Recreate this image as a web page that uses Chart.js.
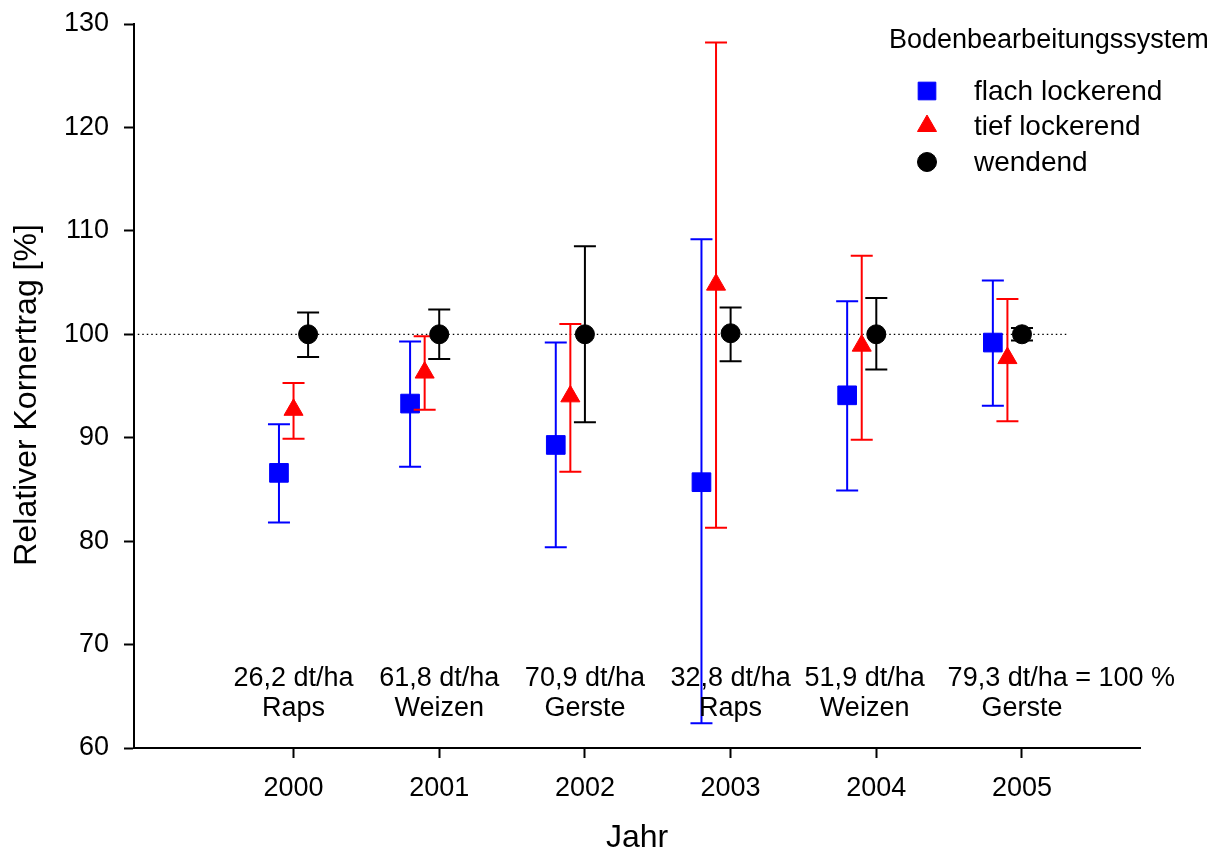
<!DOCTYPE html>
<html>
<head>
<meta charset="utf-8">
<script src="https://cdn.jsdelivr.net/npm/chart.js@4.4.1/dist/chart.umd.min.js"></script>
<style>
  html, body { margin: 0; padding: 0; background: #ffffff; }
  #wrap { width: 1219px; height: 857px; }
</style>
</head>
<body>
<div id="wrap"><canvas id="c" width="1219" height="857"></canvas></div>
<script>
// ---------- data ----------
const years = [2000, 2001, 2002, 2003, 2004, 2005];
const yearTickLabels = ['2000', '2001', '2002', '2003', '2004', '2005'];
const seriesNames = ['flach lockerend', 'tief lockerend', 'wendend'];
const legendTitle = 'Bodenbearbeitungssystem';

const flachX    = [1999.9, 2000.8, 2001.8, 2002.8, 2003.8, 2004.8];
const flachMean = [86.6, 93.3, 89.3, 85.7, 94.1, 99.2];
const flachLow  = [81.8, 87.2, 79.4, 62.4, 84.9, 93.1];
const flachHigh = [91.3, 99.3, 99.2, 109.2, 103.2, 105.2];

const tiefX    = [2000.0, 2000.9, 2001.9, 2002.9, 2003.9, 2004.9];
const tiefMean = [92.7, 96.3, 94.0, 104.8, 98.9, 97.7];
const tiefLow  = [89.9, 92.7, 86.7, 81.3, 89.8, 91.6];
const tiefHigh = [95.3, 99.8, 101.0, 128.2, 107.6, 103.4];

const wendX    = [2000.1, 2001, 2002, 2003, 2004, 2005];
const wendMean = [100, 100, 100, 100.1, 100, 100];
const wendLow  = [97.8, 97.6, 91.5, 97.4, 96.6, 99.4];
const wendHigh = [102.1, 102.4, 108.5, 102.6, 103.5, 100.6];

const yieldLabels = ['26,2 dt/ha', '61,8 dt/ha', '70,9 dt/ha', '32,8 dt/ha', '51,9 dt/ha', '79,3 dt/ha = 100 %'];
const cropLabels  = ['Raps', 'Weizen', 'Gerste', 'Raps', 'Weizen', 'Gerste'];
const yieldLabelX = [2000, 2001, 2002, 2003, 2003.92, 2005.27];
const cropLabelX  = [2000, 2001, 2002, 2003, 2003.92, 2005];
const annotationRowValues = [66.7, 63.8];

const referenceValue = 100;
const referenceSpan = [1998.9, 2005.32];

const xMin = 1998.905, xMax = 2005.81;
const yMin = 60, yMax = 130, yStep = 10;

// ---------- helpers ----------
const FONT = "'Liberation Sans', Arial, Helvetica, sans-serif";
function pts(xs, ys) { return xs.map((x, i) => ({ x: x, y: ys[i] })); }

function drawMarker(ctx, style, x, y, r, color) {
  if (Chart.helpers && Chart.helpers.drawPoint) {
    ctx.save();
    ctx.fillStyle = color; ctx.strokeStyle = color; ctx.lineWidth = 1;
    Chart.helpers.drawPoint(ctx, { pointStyle: style, radius: r, rotation: 0, borderWidth: 1 }, x, y);
    ctx.restore();
    return;
  }
  ctx.save();
  ctx.fillStyle = color;
  ctx.beginPath();
  if (style === 'circle') ctx.arc(x, y, r, 0, Math.PI * 2);
  else if (style === 'triangle') {
    ctx.moveTo(x, y - r);
    ctx.lineTo(x + r * Math.sqrt(3) / 2, y + r / 2);
    ctx.lineTo(x - r * Math.sqrt(3) / 2, y + r / 2);
    ctx.closePath();
  } else {
    const s = r * Math.SQRT1_2;
    ctx.rect(x - s, y - s, 2 * s, 2 * s);
  }
  ctx.fill();
  ctx.restore();
}

// error bars drawn just before each dataset's markers
const errorBarPlugin = {
  id: 'errorBars',
  beforeDatasetDraw(chart, args) {
    const ds = chart.data.datasets[args.index];
    if (!ds.errLow) return;
    const xs = chart.scales.x, ys = chart.scales.y;
    const ctx = chart.ctx;
    ctx.save();
    ctx.strokeStyle = ds.borderColor;
    ctx.lineWidth = 2;
    const cap = 11;
    ds.data.forEach((p, i) => {
      const px = xs.getPixelForValue(p.x);
      const pl = ys.getPixelForValue(ds.errLow[i]);
      const ph = ys.getPixelForValue(ds.errHigh[i]);
      ctx.beginPath();
      ctx.moveTo(px, pl); ctx.lineTo(px, ph);
      ctx.moveTo(px - cap, pl); ctx.lineTo(px + cap, pl);
      ctx.moveTo(px - cap, ph); ctx.lineTo(px + cap, ph);
      ctx.stroke();
    });
    ctx.restore();
  }
};

// yield annotations and legend
const decorPlugin = {
  id: 'decor',
  afterDraw(chart) {
    const ctx = chart.ctx;
    const xs = chart.scales.x, ys = chart.scales.y;
    ctx.save();
    ctx.fillStyle = '#000';
    ctx.textAlign = 'center';
    ctx.textBaseline = 'middle';
    ctx.font = '27px ' + FONT;
    yieldLabels.forEach((t, i) => {
      ctx.fillText(t, xs.getPixelForValue(yieldLabelX[i]), ys.getPixelForValue(annotationRowValues[0]));
    });
    cropLabels.forEach((t, i) => {
      ctx.fillText(t, xs.getPixelForValue(cropLabelX[i]), ys.getPixelForValue(annotationRowValues[1]));
    });

    // legend
    ctx.textAlign = 'left';
    ctx.font = '27px ' + FONT;
    ctx.fillText(legendTitle, 889, 41);
    ctx.font = '28px ' + FONT;
    const rows = [91, 126, 162];
    const series = chart.data.datasets.filter(d => d.errLow);
    series.forEach((ds, i) => {
      drawMarker(ctx, ds.legendStyle, 927, rows[i], ds.legendRadius, ds.backgroundColor);
      ctx.fillStyle = '#000';
      ctx.fillText(ds.label, 974, rows[i] + 1);
    });
    ctx.restore();
  }
};

new Chart(document.getElementById('c'), {
  type: 'scatter',
  data: {
    datasets: [
      {
        label: seriesNames[0],
        data: pts(flachX, flachMean),
        errLow: flachLow, errHigh: flachHigh,
        pointStyle: 'rect', pointRadius: 13.2, pointHoverRadius: 13.2,
        backgroundColor: '#0000ff', borderColor: '#0000ff', borderWidth: 1,
        legendStyle: 'rect', legendRadius: 12.5,
        order: 3
      },
      {
        label: seriesNames[1],
        data: pts(tiefX, tiefMean),
        errLow: tiefLow, errHigh: tiefHigh,
        pointStyle: 'triangle', pointRadius: 11, pointHoverRadius: 11,
        backgroundColor: '#ff0000', borderColor: '#ff0000', borderWidth: 1,
        legendStyle: 'triangle', legendRadius: 11,
        order: 2
      },
      {
        label: seriesNames[2],
        data: pts(wendX, wendMean),
        errLow: wendLow, errHigh: wendHigh,
        pointStyle: 'circle', pointRadius: 9.5, pointHoverRadius: 9.5,
        backgroundColor: '#000000', borderColor: '#000000', borderWidth: 1,
        legendStyle: 'circle', legendRadius: 9.5,
        order: 1
      },
      {
        label: 'Referenz',
        type: 'line',
        data: [{ x: referenceSpan[0], y: referenceValue }, { x: referenceSpan[1], y: referenceValue }],
        borderColor: '#000000', borderWidth: 1.3, borderDash: [1.5, 3],
        pointRadius: 0, fill: false,
        order: 4
      }
    ]
  },
  options: {
    responsive: false,
    animation: false,
    events: [],
    layout: { padding: { top: 24, right: 79, left: 0, bottom: 0 } },
    plugins: { legend: { display: false }, tooltip: { enabled: false } },
    scales: {
      x: {
        type: 'linear',
        min: xMin, max: xMax,
        afterBuildTicks(scale) { scale.ticks = years.map(v => ({ value: v })); },
        afterFit(scale) { scale.height = 109; },
        ticks: {
          color: '#000', font: { family: FONT, size: 27 }, padding: 14,
          autoSkip: false, maxRotation: 0,
          callback: (v) => yearTickLabels[years.indexOf(v)]
        },
        grid: { display: true, drawOnChartArea: false, drawTicks: true, tickLength: 10, tickColor: '#000', tickWidth: 2, color: '#000' },
        border: { display: true, color: '#000', width: 2 },
        title: { display: true, text: 'Jahr', color: '#000', font: { family: FONT, size: 32 }, padding: { top: 0, bottom: 0 } }
      },
      y: {
        type: 'linear',
        min: yMin, max: yMax,
        afterFit(scale) { scale.width = 134; scale.paddingTop = 10; scale.paddingBottom = 10; },
        ticks: { stepSize: yStep, color: '#000', font: { family: FONT, size: 27 }, padding: 15 },
        grid: { display: true, drawOnChartArea: false, drawTicks: true, tickLength: 10, tickColor: '#000', tickWidth: 2, color: '#000' },
        border: { display: true, color: '#000', width: 2 },
        title: { display: true, text: 'Relativer Kornertrag [%]  ', color: '#000', font: { family: FONT, size: 32 }, padding: { top: 8, bottom: 0 } }
      }
    }
  },
  plugins: [errorBarPlugin, decorPlugin]
});
</script>
</body>
</html>
